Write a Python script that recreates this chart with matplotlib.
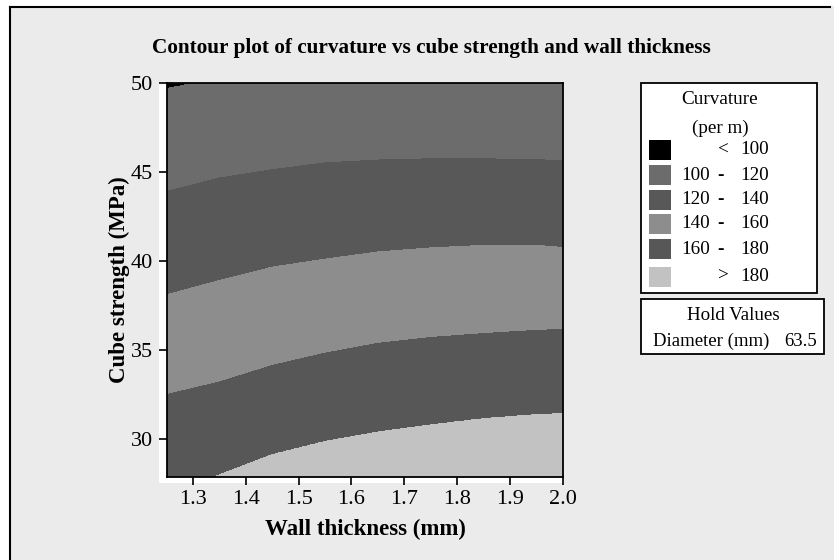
import numpy as np
import matplotlib
matplotlib.use("Agg")
import matplotlib.pyplot as plt
from matplotlib.patches import Rectangle
from matplotlib.lines import Line2D

plt.rcParams['font.family'] = ['Liberation Serif', 'DejaVu Serif']

# Contour boundaries: cube strength (MPa) at which curvature crosses each level,
# sampled along wall thickness (mm)
wall_pts = [1.25, 1.35, 1.45, 1.55, 1.65, 1.75, 1.85, 1.95, 2.0]
level_values = [100, 120, 140, 160, 180]
strength_at_100 = [49.67, 50.25, 50.7, 51.1, 51.4, 51.6, 51.7, 51.7, 51.7]
strength_at_120 = [43.9, 44.65, 45.12, 45.5, 45.66, 45.73, 45.73, 45.68, 45.62]
strength_at_140 = [38.1, 38.9, 39.65, 40.1, 40.5, 40.73, 40.87, 40.88, 40.75]
strength_at_160 = [32.5, 33.2, 34.13, 34.82, 35.37, 35.7, 35.92, 36.1, 36.15]
strength_at_180 = [26.85, 28.0, 29.13, 29.87, 30.4, 30.8, 31.15, 31.38, 31.43]

band_labels = ["<  100", "100  -  120", "120  -  140", "140  -  160", "160  -  180", ">  180"]
band_colors = ["#000000", "#6c6c6c", "#585858", "#8d8d8d", "#575757", "#c2c2c2"]
x_ticks = [1.3, 1.4, 1.5, 1.6, 1.7, 1.8, 1.9, 2.0]
y_ticks = [30, 35, 40, 45, 50]
hold_name = "Diameter (mm)"
hold_value = "63.5"

# Build the curvature surface from the boundary curves
xs = np.linspace(1.25, 2.0, 600)
ys = np.linspace(27.9, 50.0, 600)
bounds = [strength_at_100, strength_at_120, strength_at_140, strength_at_160, strength_at_180]
Z = np.empty((ys.size, xs.size))
for j, xv in enumerate(xs):
    b = [np.interp(xv, wall_pts, arr) for arr in bounds]  # y for levels 100..180
    anchor_y = [b[4] - 10] + b[::-1] + [b[0] + 10]
    anchor_c = [200] + level_values[::-1] + [80]
    Z[:, j] = np.interp(ys, anchor_y, anchor_c)
X, Y = np.meshgrid(xs, ys)

W, H = 834, 560
fig = plt.figure(figsize=(W / 100, H / 100), dpi=100, facecolor="white")

def fx(px):
    return px / W

def fy(py):
    return 1 - py / H

# Grey panel with dark frame
fig.add_artist(Rectangle((fx(9), 0), 1 - fx(9), fy(6), transform=fig.transFigure,
                         facecolor="#ebebeb", edgecolor="none", zorder=0))
fig.add_artist(Line2D([fx(9.5), fx(9.5)], [0, fy(6.5)], transform=fig.transFigure,
                      color="black", lw=1.5, zorder=1))
fig.add_artist(Line2D([fx(9.5), fx(829.5)], [fy(6.5), fy(6.5)], transform=fig.transFigure,
                      color="black", lw=1.5, zorder=1))

# White region behind the axes and its ticks
fig.add_artist(Rectangle((fx(159), fy(483)), fx(562.5) - fx(159), fy(82.7) - fy(483),
                         transform=fig.transFigure, facecolor="white", edgecolor="none", zorder=1))

ax = fig.add_axes([fx(166.7), fy(476.5), fx(562.5) - fx(166.7), fy(82.7) - fy(476.5)], zorder=2)
ax.contourf(X, Y, Z, levels=[0, 100, 120, 140, 160, 180, 1000], colors=band_colors)
ax.set_xlim(1.25, 2.0)
ax.set_ylim(27.9, 50.0)
ax.set_xticks(x_ticks)
ax.set_xticklabels([f"{v:.1f}" for v in x_ticks])
ax.set_yticks(y_ticks)
ax.tick_params(direction="out", length=6, width=1.2, labelsize=16, pad=4)
for s in ax.spines.values():
    s.set_linewidth(1.3)

ax.set_xlabel("Wall thickness (mm)", fontsize=16.5, fontweight="bold")
ax.set_ylabel("Cube strength (MPa)", fontsize=16.5, fontweight="bold")
ax.xaxis.set_label_coords((365 - 166.7) / (562.5 - 166.7), (476.5 - 519) / (476.5 - 82.7))
ax.yaxis.set_label_coords((130 - 166.7) / (562.5 - 166.7), (476.5 - 280) / (476.5 - 82.7))
fig.text(fx(431), fy(48), "Contour plot of curvature vs cube strength and wall thickness",
         ha="center", va="center", fontsize=15.3, fontweight="bold")

# Legend box
fig.add_artist(Rectangle((fx(640.7), fy(293.3)), fx(817.3) - fx(640.7), fy(83.3) - fy(293.3),
                         transform=fig.transFigure, facecolor="white", edgecolor="black", lw=1.3, zorder=3))
fig.text(fx(720), fy(100), "Curvature", ha="center", va="center", fontsize=13.8, zorder=4)
fig.text(fx(720), fy(128), "(per m)", ha="center", va="center", fontsize=13.8, zorder=4)
row_y = [150, 175, 199.5, 224, 249, 276.5]
for lab, col, ry in zip(band_labels, band_colors, row_y):
    fig.add_artist(Rectangle((fx(649.3), fy(ry + 10)), fx(670.7) - fx(649.3), fy(ry - 10) - fy(ry + 10),
                             transform=fig.transFigure, facecolor=col, edgecolor="none", zorder=4))
    parts = lab.split()
    if len(parts) == 3:
        fig.text(fx(681), fy(ry), parts[0], ha="left", va="center", fontsize=13.8, zorder=4)
        fig.text(fx(720), fy(ry), parts[1], ha="center", va="center", fontsize=13.8,
                 fontweight="bold", zorder=4)
        fig.text(fx(740), fy(ry), parts[2], ha="left", va="center", fontsize=13.8, zorder=4)
    else:
        fig.text(fx(723), fy(ry), parts[0], ha="center", va="center", fontsize=13.8, zorder=4)
        fig.text(fx(740), fy(ry), parts[1], ha="left", va="center", fontsize=13.8, zorder=4)

# Hold values box
fig.add_artist(Rectangle((fx(640.7), fy(354)), fx(824) - fx(640.7), fy(299.3) - fy(354),
                         transform=fig.transFigure, facecolor="white", edgecolor="black", lw=1.3, zorder=3))
fig.text(fx(733), fy(315), "Hold Values", ha="center", va="center", fontsize=13.7, zorder=4)
fig.text(fx(653), fy(341.5), hold_name, ha="left", va="center", fontsize=13.5, zorder=4)
fig.text(fx(816.7), fy(341.5), hold_value, ha="right", va="center", fontsize=13.5, zorder=4)

fig.savefig("out.png", dpi=100, facecolor="white")
